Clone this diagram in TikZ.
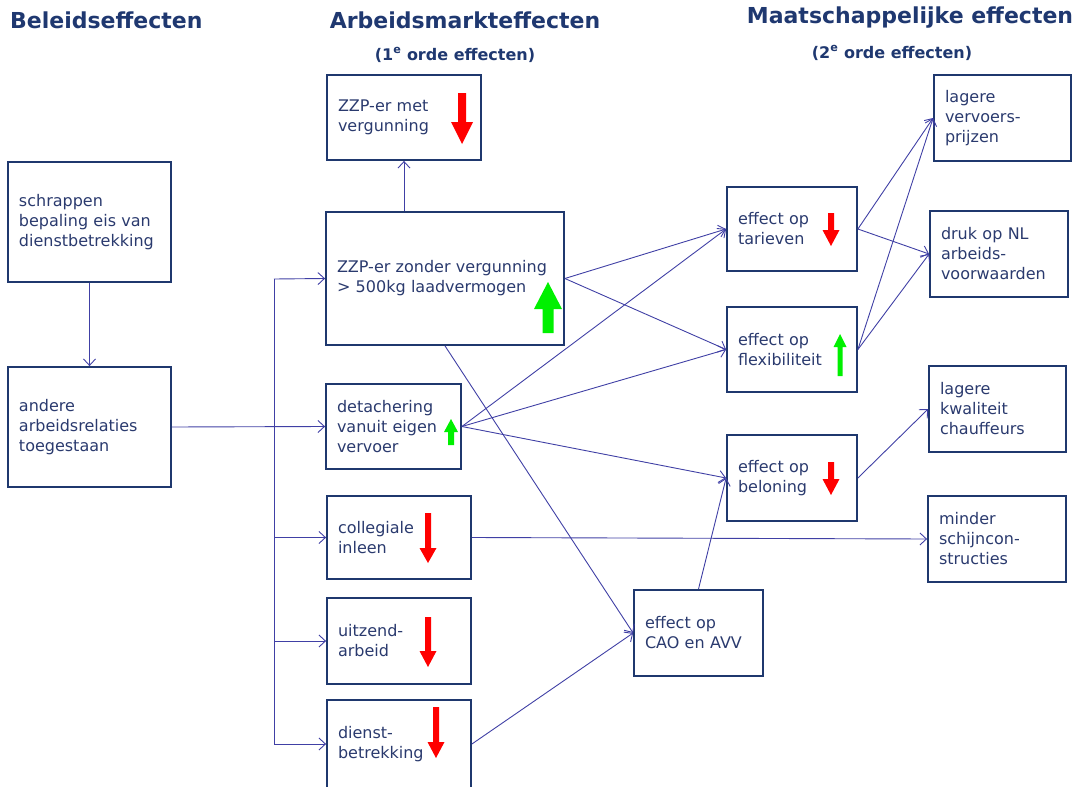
\documentclass[tikz,border=0pt]{standalone}
\usepackage{fontspec}
\setmainfont{DejaVu Sans}
\usetikzlibrary{arrows.meta}
\definecolor{hdr}{RGB}{31,56,112}
\definecolor{txt}{RGB}{42,58,110}
\definecolor{brd}{RGB}{31,56,110}
\definecolor{linkc}{RGB}{64,64,165}
\definecolor{upg}{RGB}{0,240,0}
\definecolor{dnr}{RGB}{255,0,0}
\newcommand\myDownArrow[6]{% x, top, tip, shaft, headw, headlen
 \fill[dnr] ({#1-#4/2},#2) -- ({#1+#4/2},#2) -- ({#1+#4/2},{#3-#6}) -- ({#1+#5/2},{#3-#6}) -- (#1,#3) -- ({#1-#5/2},{#3-#6}) -- ({#1-#4/2},{#3-#6}) -- cycle;}
\newcommand\myUpArrow[6]{% x, tip, bottom, shaft, headw, headlen
 \fill[upg] ({#1-#4/2},#3) -- ({#1+#4/2},#3) -- ({#1+#4/2},{#2+#6}) -- ({#1+#5/2},{#2+#6}) -- (#1,#2) -- ({#1-#5/2},{#2+#6}) -- ({#1-#4/2},{#2+#6}) -- cycle;}
\begin{document}
\begin{tikzpicture}[x=1pt,y=-1pt,
  box/.style={draw=brd,line width=1.8pt,text=txt,align=left,inner xsep=11pt,inner ysep=0pt,font=\fontsize{16}{20}\selectfont},
  link/.style={draw=linkc,line width=0.9pt},
  arr/.style={link,-{Straight Barb[length=6.5pt,width=12pt]}},
  hd/.style={text=hdr,font=\fontsize{22}{26}\selectfont\bfseries,inner sep=0pt},
  sub/.style={text=hdr,font=\fontsize{16}{19}\selectfont\bfseries,inner sep=0pt}]
\useasboundingbox (0,0) rectangle (1080,787);
% headers
\node[hd,anchor=west] (h1) at (10,20) {Beleidseffecten};
\node[hd] (h2) at (465,20) {Arbeidsmarkteffecten};
\node[sub] (s2) at (455,55) {(1\textsuperscript{e} orde effecten)};
\node[hd] (h3) at (910,18) {Maatschappelijke effecten};
\node[sub] (s3) at (892,53) {(2\textsuperscript{e} orde effecten)};
% boxes
\node[box,minimum width=163pt,minimum height=120pt,text width=141pt] (b1) at (89.5,222) {schrappen\\bepaling eis van\\dienstbetrekking};
\node[box,minimum width=163pt,minimum height=120pt,text width=141pt] (b2) at (89.5,427) {andere\\arbeidsrelaties\\toegestaan};
\node[box,minimum width=154pt,minimum height=85pt,text width=132pt] (zmet) at (404,117.5) {ZZP-er met\\vergunning};
\node[box,minimum width=238pt,minimum height=133pt,text width=216pt] (zzon) at (445,278.5) {ZZP-er zonder vergunning\\> 500kg laadvermogen};
\node[box,minimum width=135pt,minimum height=85pt,text width=113pt] (det) at (393.5,426.5) {detachering\\vanuit eigen\\vervoer};
\node[box,minimum width=144pt,minimum height=83pt,text width=122pt] (col) at (399,537.5) {collegiale\\inleen};
\node[box,minimum width=144pt,minimum height=86pt,text width=122pt] (uit) at (399,641) {uitzend-\\arbeid};
\node[box,minimum width=144pt,minimum height=88pt,text width=122pt] (dienst) at (399,744) {dienst-\\betrekking};
\node[box,minimum width=130pt,minimum height=84pt,text width=108pt] (tar) at (792,229) {effect op\\tarieven};
\node[box,minimum width=130pt,minimum height=85pt,text width=108pt] (flex) at (792,349.5) {effect op\\flexibiliteit};
\node[box,minimum width=130pt,minimum height=86pt,text width=108pt] (bel) at (792,478) {effect op\\beloning};
\node[box,minimum width=129pt,minimum height=86pt,text width=107pt] (cao) at (698.5,633) {effect op\\CAO en AVV};
\node[box,minimum width=137pt,minimum height=86pt,text width=115pt] (lvp) at (1002.5,118) {lagere\\vervoers-\\prijzen};
\node[box,minimum width=138pt,minimum height=86pt,text width=116pt] (druk) at (999,254) {druk op NL\\arbeids-\\voorwaarden};
\node[box,minimum width=137pt,minimum height=86pt,text width=115pt] (lkw) at (997.5,409) {lagere\\kwaliteit\\chauffeurs};
\node[box,minimum width=138pt,minimum height=86pt,text width=116pt] (minder) at (997,539) {minder\\schijncon-\\structies};
% up/down arrows inside boxes
\myDownArrow{462}{93}{144}{8}{22}{22}
\myUpArrow{548}{282}{333}{11}{28}{27}
\myUpArrow{451}{419}{445}{6}{14}{13}
\myDownArrow{831}{213}{246}{6}{17}{16}
\myUpArrow{840}{334}{376}{5}{13}{13}
\myDownArrow{831}{462}{495}{6}{17}{16}
\myDownArrow{428}{513}{563}{6}{17}{15}
\myDownArrow{428}{617}{667}{6}{17}{16}
\myDownArrow{436}{707}{758}{6}{17}{16}
% connectors
\coordinate (bt) at (274,279);
\coordinate (bb) at (274,744);
\draw[arr] (b1.south) -- (b2.north);
\draw[arr] (b2.east) -- (det.west);
\draw[link] (bt) -- (bb);
\draw[arr] (bt) -- (zzon.west);
\draw[arr] (bt |- col.west) -- (col.west);
\draw[arr] (bt |- uit.west) -- (uit.west);
\draw[arr] (bb) -- (dienst.west);
\draw[arr] (zzon.north -| zmet.south) -- (zmet.south);
\draw[arr] (zzon.east) -- (tar.west);
\draw[arr] (zzon.east) -- (flex.west);
\draw[arr] (zzon.south) -- (cao.west);
\draw[arr] (det.east) -- (tar.west);
\draw[arr] (det.east) -- (flex.west);
\draw[arr] (det.east) -- (bel.west);
\draw[arr] (col.east) -- (minder.west);
\draw[arr] (dienst.east) -- (cao.west);
\draw[arr] (cao.north) -- (bel.west);
\draw[arr] (tar.east) -- (lvp.west);
\draw[arr] (tar.east) -- (druk.west);
\draw[arr] (flex.east) -- (lvp.west);
\draw[arr] (flex.east) -- (druk.west);
\draw[arr] (bel.east) -- (lkw.west);
\end{tikzpicture}
\end{document}
